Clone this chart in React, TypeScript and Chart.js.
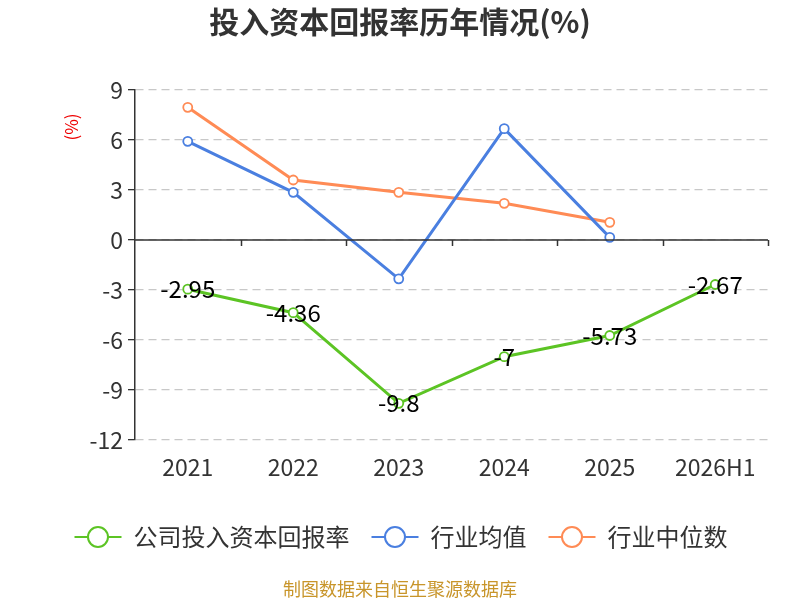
import React, { useEffect, useRef } from 'react';
import { Chart, registerables } from 'chart.js';

Chart.register(...registerables);

const years = ['2021', '2022', '2023', '2024', '2025', '2026H1'];
const companyRoic = [-2.95, -4.36, -9.8, -7, -5.73, -2.67];
const industryAvg = [5.92, 2.86, -2.33, 6.68, 0.16, null];
const industryMedian = [7.96, 3.6, 2.86, 2.2, 1.06, null];
const seriesNames = ['公司投入资本回报率', '行业均值', '行业中位数'];
const seriesColors = ['#5cc424', '#4a7fe0', '#ff8b55'];

const FONT = '"Noto Sans CJK SC", "Noto Sans", sans-serif';

const decorPlugin = {
    id: 'decor',
    afterDraw(chart: any) {
        const ctx = chart.ctx;
        const area = chart.chartArea;
        const y = chart.scales.y;
        ctx.save();

        // zero line with category ticks
        const y0 = y.getPixelForValue(0);
        ctx.strokeStyle = '#333';
        ctx.lineWidth = 1.5;
        ctx.beginPath();
        ctx.moveTo(area.left, y0);
        ctx.lineTo(area.right, y0);
        ctx.stroke();
        const step = (area.right - area.left) / years.length;
        for (let i = 1; i <= years.length; i++) {
            const px = Math.round(area.left + step * i) + 0.5;
            ctx.beginPath();
            ctx.moveTo(px, y0);
            ctx.lineTo(px, y0 + 6);
            ctx.stroke();
        }

        // title
        ctx.fillStyle = '#333';
        ctx.font = `bold 30px ${FONT}`;
        ctx.textAlign = 'center';
        ctx.textBaseline = 'middle';
        ctx.fillText('投入资本回报率历年情况(%)', 400, 22);

        // y axis unit
        ctx.save();
        ctx.translate(72, 127);
        ctx.rotate(-Math.PI / 2);
        ctx.fillStyle = '#ee0000';
        ctx.font = `17px ${FONT}`;
        ctx.fillText('(%)', 0, 0);
        ctx.restore();

        // legend
        ctx.font = `24px ${FONT}`;
        const widths = seriesNames.map((n) => ctx.measureText(n).width);
        const symW = 47;
        const gap = 12;
        const itemGap = 22;
        const total = widths.reduce((a, w) => a + symW + gap + w, 0) + itemGap * (seriesNames.length - 1);
        let lx = 401 - total / 2;
        const ly = 537;
        seriesNames.forEach((name, i) => {
            ctx.strokeStyle = seriesColors[i];
            ctx.lineWidth = 2;
            ctx.beginPath();
            ctx.moveTo(lx, ly);
            ctx.lineTo(lx + symW, ly);
            ctx.stroke();
            ctx.beginPath();
            ctx.arc(lx + symW / 2, ly, 10, 0, Math.PI * 2);
            ctx.fillStyle = '#fff';
            ctx.fill();
            ctx.stroke();
            ctx.fillStyle = '#333';
            ctx.textAlign = 'left';
            ctx.fillText(name, lx + symW + gap, ly);
            lx += symW + gap + widths[i] + itemGap;
        });

        // footer
        ctx.fillStyle = '#c8952a';
        ctx.font = `18px ${FONT}`;
        ctx.textAlign = 'center';
        ctx.fillText('制图数据来自恒生聚源数据库', 400, 589);
        ctx.restore();
    },
    afterDatasetsDraw(chart: any) {
        const ctx = chart.ctx;
        const meta = chart.getDatasetMeta(0);
        ctx.save();
        ctx.fillStyle = '#000';
        ctx.font = `24px ${FONT}`;
        ctx.textAlign = 'center';
        ctx.textBaseline = 'middle';
        meta.data.forEach((pt: any, i: number) => {
            ctx.fillText(String(companyRoic[i]), pt.x, pt.y);
        });
        ctx.restore();
    },
};

const App: React.FC = () => {
    const canvasRef = useRef<HTMLCanvasElement>(null);

    useEffect(() => {
        const ctx = canvasRef.current?.getContext('2d');
        if (!ctx) return;
        const mk = (label: string, data: (number | null)[], color: string) => ({
            label,
            data,
            borderColor: color,
            backgroundColor: '#fff',
            borderWidth: 3,
            pointRadius: 4.5,
            pointBorderWidth: 1.8,
            pointBackgroundColor: '#fff',
            pointBorderColor: color,
            tension: 0,
        });
        const chart = new Chart(ctx, {
            type: 'line',
            data: {
                labels: years,
                datasets: [
                    mk(seriesNames[0], companyRoic, seriesColors[0]),
                    mk(seriesNames[1], industryAvg, seriesColors[1]),
                    mk(seriesNames[2], industryMedian, seriesColors[2]),
                ],
            },
            options: {
                responsive: false,
                animation: false,
                devicePixelRatio: 1,
                layout: { padding: { top: 90, bottom: 120, left: 0, right: 32 } },
                plugins: {
                    legend: { display: false },
                    title: { display: false },
                    tooltip: { enabled: false },
                },
                scales: {
                    x: {
                        offset: true,
                        grid: { display: false },
                        border: { display: false },
                        ticks: { color: '#333', font: { size: 23, family: FONT }, padding: 5 },
                        afterFit: (s: any) => { s.height = 40; },
                    },
                    y: {
                        min: -12,
                        max: 9,
                        ticks: { stepSize: 3, color: '#333', font: { size: 23, family: FONT }, padding: 5 },
                        grid: { color: '#c8c8c8', lineWidth: 1.3, tickLength: 7, tickColor: '#333', tickBorderDash: [] },
                        border: { display: true, color: '#333', width: 1.5, dash: [8, 5] },
                        afterFit: (s: any) => { s.width = 135; },
                    },
                },
            },
            plugins: [decorPlugin],
        });
        return () => chart.destroy();
    }, []);

    return (
        <div style={{ position: 'fixed', left: 0, top: 0, width: 800, height: 600, background: '#fff' }}>
            <canvas ref={canvasRef} width={800} height={600} style={{ width: 800, height: 600 }} />
        </div>
    );
};

export default App;
